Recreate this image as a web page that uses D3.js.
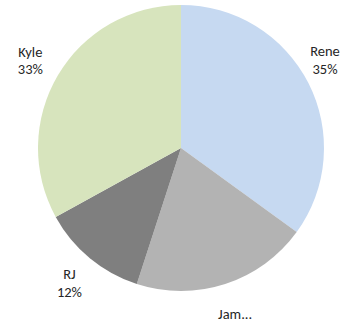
<!DOCTYPE html>
<html><head><meta charset="utf-8">
<script src="https://cdn.jsdelivr.net/npm/d3@7"></script>
<style>html,body{margin:0;padding:0;background:#fff;}</style>
</head><body>
<svg id="chart" width="350" height="326"></svg>
<script>
const categories = ["Rene", "Jam...", "RJ", "Kyle"];
const values = [35, 20, 12, 33];
const percentLabels = ["35%", "", "12%", "33%"];
const colors = ["#c6d9f1", "#b3b3b3", "#7f7f7f", "#d7e4bd"];

const svg = d3.select("#chart");
const cx = 181, cy = 148, R = 143;
const g = svg.append("g").attr("transform", `translate(${cx},${cy})`);
const data = categories.map((c, i) => ({cat: c, value: values[i], pct: percentLabels[i], color: colors[i]}));
const pie = d3.pie().value(d => d.value).sort(null);
const arc = d3.arc().innerRadius(0).outerRadius(R);
const arcs = pie(data);
g.selectAll("path").data(arcs).join("path")
  .attr("d", arc).attr("fill", d => d.data.color);

const lr = 175;
const lg = g.selectAll("g.lab").data(arcs).join("g").attr("class", "lab")
  .attr("transform", d => {
    const a = (d.startAngle + d.endAngle) / 2;
    let x = lr * Math.sin(a), y = -lr * Math.cos(a);
    x = Math.max(26 - cx, Math.min(325 - cx, x));
    y = Math.max(60 - cy, y);
    if (d.data.cat === "Rene") y -= 9;
    return `translate(${x},${y})`;
  });
lg.each(function(d) {
  const t = d3.select(this).append("text")
    .attr("text-anchor", "middle")
    .attr("font-family", "Carlito, Lato, 'Open Sans', sans-serif")
    .attr("font-size", 14.5).attr("fill", "#262626");
  if (d.data.pct) {
    t.append("tspan").attr("x", 0).attr("y", -3.5).text(d.data.cat);
    t.append("tspan").attr("x", 0).attr("y", 14).text(d.data.pct);
  } else {
    t.append("tspan").attr("x", 0).attr("y", 4.5).text(d.data.cat);
  }
});
</script>
</body></html>
